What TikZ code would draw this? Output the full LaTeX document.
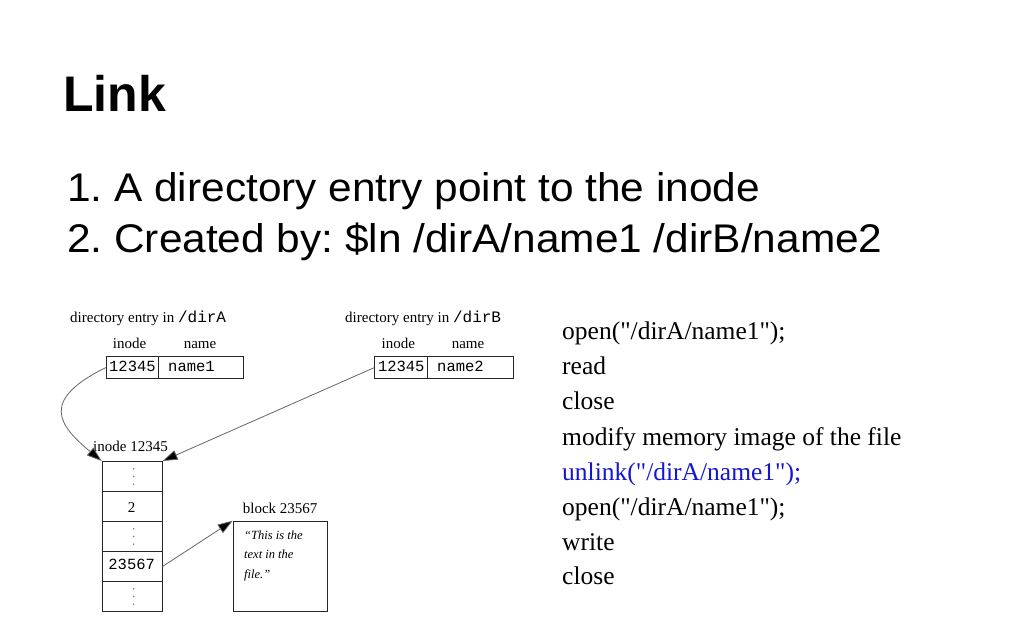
\documentclass[tikz,border=0pt]{standalone}
\usepackage{fontspec}
\setmainfont{Liberation Serif}[Ligatures=TeXOff]
\setsansfont{Liberation Sans}
\setmonofont{Liberation Mono}
\usetikzlibrary{arrows.meta,calc}
\definecolor{linkblue}{RGB}{20,20,210}
\tikzset{
  cell/.style={draw=black!85, line width=0.9pt, anchor=north west, inner sep=0pt},
  lbl/.style={anchor=base west, inner sep=0pt, font=\fontsize{15}{15}\selectfont},
  hdr/.style={anchor=base, inner sep=0pt, font=\fontsize{15}{15}\selectfont},
  mono/.style={anchor=base west, inner sep=0pt, font=\fontsize{15.5}{15.5}\ttfamily},
  code/.style={anchor=base west, inner sep=0pt, font=\fontsize{25.5}{25.5}\selectfont},
  bullet/.style={anchor=base west, inner sep=0pt, xscale=1.06, font=\fontsize{40}{40}\sffamily\frenchspacing},
  blocktext/.style={anchor=base west, inner sep=0pt, font=\fontsize{12.5}{12.5}\selectfont\itshape},
  ptr/.style={draw=black!60, line width=0.8pt, -{Triangle[length=15pt,width=10pt,fill=black]}},
}
\begin{document}
\frenchspacing
\begin{tikzpicture}[x=1pt,y=-1pt]
\useasboundingbox (0,0) rectangle (1024,640);
\fill[white] (0,0) rectangle (1024,640);

% title and bullet text
\node[anchor=base west, inner sep=0pt, font=\fontsize{50}{50}\sffamily\bfseries] (title) at (63,111) {Link};
\node[bullet] (l1) at (67,201) {1. A directory entry point to the inode};
\node[bullet] (l2) at (67,252) {2. Created by: \$ln /dirA/name1 /dirB/name2};

% directory entry dirA
\node[lbl] (dA) at (70,322) {directory entry in \texttt{\fontsize{16}{16}\selectfont /dirA}};
\node[hdr] (dAi) at (129.5,348) {inode};
\node[hdr] (dAn) at (200,348) {name};
\node[cell, minimum width=52.6pt, minimum height=22.3pt] (a1) at (105.7,356) {};
\node[cell, minimum width=85pt, minimum height=22.3pt] (a2) at (158.3,356) {};
\node[mono, anchor=base] (a1t) at (a1.center |- 0,371.7) {12345};
\node[mono] (a2t) at (168,371.7) {name1};

% directory entry dirB
\node[lbl] (dB) at (345,322) {directory entry in \texttt{\fontsize{16}{16}\selectfont /dirB}};
\node[hdr] (dBi) at (398.3,348) {inode};
\node[hdr] (dBn) at (468,348) {name};
\node[cell, minimum width=53pt, minimum height=22.3pt] (b1) at (374.3,356) {};
\node[cell, minimum width=85.4pt, minimum height=22.3pt] (b2) at (427.3,356) {};
\node[mono, anchor=base] (b1t) at (b1.center |- 0,371.7) {12345};
\node[mono] (b2t) at (437,371.7) {name2};

% inode
\node[lbl] (il) at (93,451) {inode 12345};
\node[cell, minimum width=60pt, minimum height=30pt] (r1) at (101.7,461) {};
\node[cell, minimum width=60pt, minimum height=30pt] (r2) at (101.7,491) {};
\node[cell, minimum width=60pt, minimum height=30pt] (r3) at (101.7,521) {};
\node[cell, minimum width=60pt, minimum height=30pt] (r4) at (101.7,551) {};
\node[cell, minimum width=60pt, minimum height=30pt] (r5) at (101.7,581) {};
\node[hdr] (r2t) at (131.7,512.5) {2};
\node[mono, anchor=base] (r4t) at (131.7,569.3) {23567};
\foreach \r in {r1,r3,r5}{
  \foreach \d in {-7.7,0,7.7}{
    \fill[black!50] ($(\r.center)+(1.5,\d)$) circle (0.9);
  }
}

% block
\node[lbl] (bl) at (242.7,513.3) {block 23567};
\node[cell, minimum width=94pt, minimum height=90pt] (blk) at (232.7,520.7) {};
\node[blocktext] (bt1) at (244,539.3) {“This is the};
\node[blocktext] (bt2) at (244,558.3) {text in the};
\node[blocktext] (bt3) at (244,578.3) {file.”};

% pointers
\draw[ptr] (a1.west) .. controls (40,400) and (58,425) .. (r1.north west);
\draw[ptr] (b1.west) -- (r1.north east);
\draw[ptr] (r4.east) -- (blk.north west);

% code listing
\node[code] (c1) at (562,339) {open("/dirA/name1");};
\node[code] (c2) at (562,374) {read};
\node[code] (c3) at (562,409) {close};
\node[code] (c4) at (562,445) {modify memory image of the file};
\node[code, text=linkblue] (c5) at (562,480) {unlink("/dirA/name1");};
\node[code] (c6) at (562,515) {open("/dirA/name1");};
\node[code] (c7) at (562,550) {write};
\node[code] (c8) at (562,584) {close};
\end{tikzpicture}
\end{document}
